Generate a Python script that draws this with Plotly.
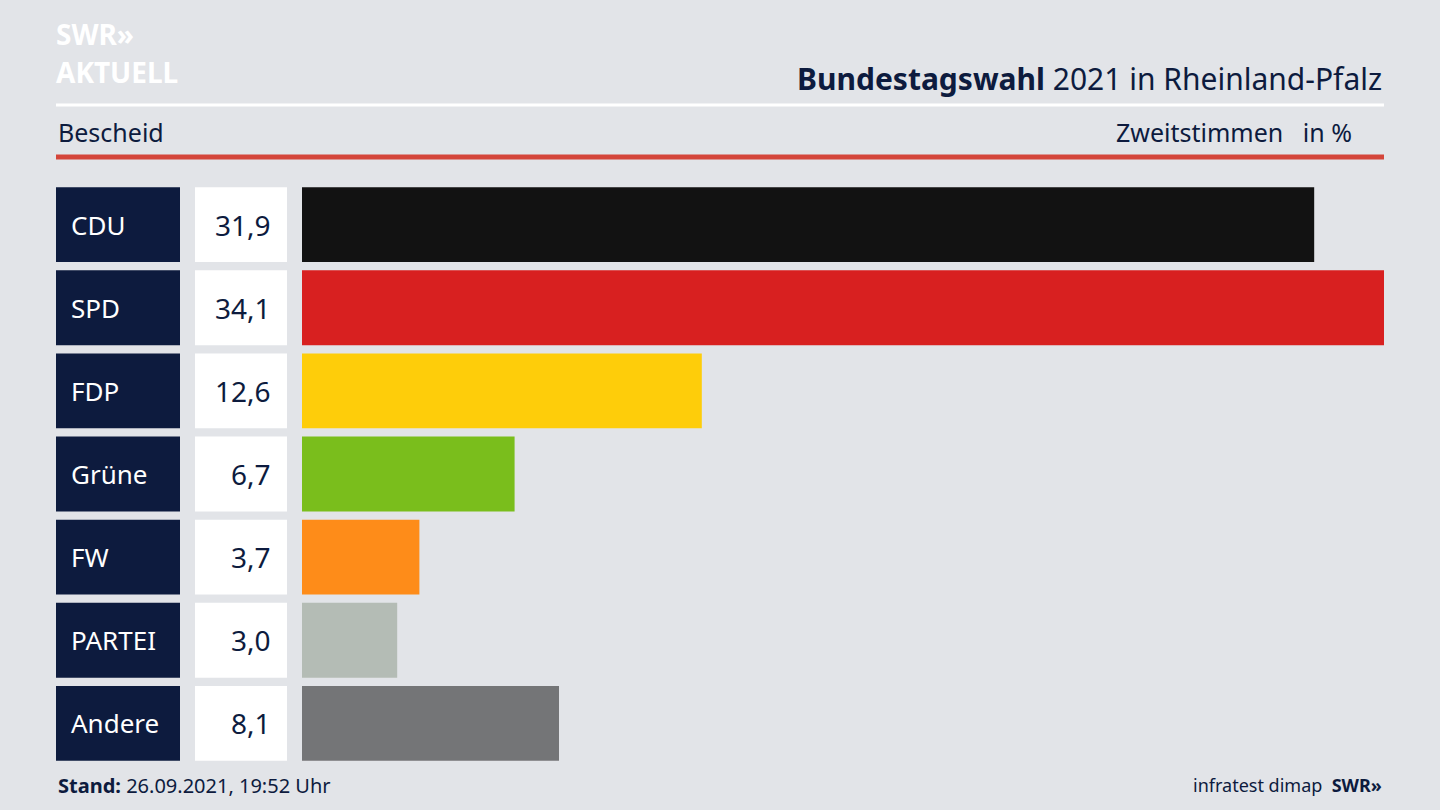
import plotly.graph_objects as go

parties = ["CDU", "SPD", "FDP", "Grüne", "FW", "PARTEI", "Andere"]
values = [31.9, 34.1, 12.6, 6.7, 3.7, 3.0, 8.1]
labels = ["31,9", "34,1", "12,6", "6,7", "3,7", "3,0", "8,1"]
colors = ["#121212", "#d82020", "#fecd0a", "#7abe1c", "#fe8c19", "#b4bcb5", "#747577"]

W, H = 1440, 810
def px(x): return x / W
def py(y): return 1 - y / H

navy = "#0d1b3e"
font = "Noto Sans"
idx = list(range(len(parties)))

fig = go.Figure(go.Bar(x=values, y=idx, orientation="h", marker=dict(color=colors, line_width=0),
                       width=0.9, hoverinfo="skip"))

shapes, ann = [], []
for i, (p, l) in enumerate(zip(parties, labels)):
    shapes.append(dict(type="rect", xref="paper", yref="y", x0=px(56), x1=px(180), y0=i-0.45, y1=i+0.45,
                       fillcolor=navy, line_width=0, layer="below"))
    shapes.append(dict(type="rect", xref="paper", yref="y", x0=px(195), x1=px(287), y0=i-0.45, y1=i+0.45,
                       fillcolor="white", line_width=0, layer="below"))
    ann.append(dict(text=p, xref="paper", yref="y", x=px(69), y=i, xanchor="left", showarrow=False,
                    font=dict(family=font, size=26, color="white")))
    ann.append(dict(text=l, xref="paper", yref="y", x=px(273), y=i, xanchor="right", showarrow=False,
                    font=dict(family=font, size=28, color=navy)))

shapes += [
    dict(type="line", xref="paper", yref="paper", x0=px(56), x1=px(1384), y0=py(105), y1=py(105),
         line=dict(color="white", width=3)),
    dict(type="line", xref="paper", yref="paper", x0=px(56), x1=px(1384), y0=py(157), y1=py(157),
         line=dict(color="#d4453a", width=5)),
]

def text(t, x, y, size, anchor="left", color=navy, fam=font):
    ann.append(dict(text=t, xref="paper", yref="paper", x=px(x), y=py(y), xanchor=anchor, yanchor="middle",
                    showarrow=False, font=dict(family=fam, size=size, color=color)))

text("<b>SWR»</b>", 54, 34, 28, color="white")
text("<b>AKTUELL</b>", 54, 72, 28, color="white")
text("<b>Bundestagswahl</b> 2021 in Rheinland-Pfalz", 1384, 78, 30, "right")
text("Bescheid", 56, 132, 25)
text("Zweitstimmen   in %", 1354, 132, 25, "right")
text("<b>Stand:</b> 26.09.2021, 19:52 Uhr", 56, 785, 20)
text("infratest dimap  <b>SWR»</b>", 1384, 785, 18, "right")

fig.update_layout(
    width=W, height=H, margin=dict(l=0, r=0, t=0, b=0),
    paper_bgcolor="#e2e4e8", plot_bgcolor="rgba(0,0,0,0)", showlegend=False,
    xaxis=dict(domain=[px(302), px(1384)], range=[0, 34.1], visible=False, fixedrange=True),
    yaxis=dict(domain=[py(765), py(183)], range=[6.5, -0.5], visible=False, fixedrange=True),
    shapes=shapes, annotations=ann,
)
fig.write_html("out.html", config={"displayModeBar": False})
with open("out.html", encoding="utf-8") as f:
    html = f.read()
html = html.replace("<head>", "<head><style>html,body{margin:0;padding:0;overflow:hidden;background:#e2e4e8}</style>", 1)
with open("out.html", "w", encoding="utf-8") as f:
    f.write(html)
